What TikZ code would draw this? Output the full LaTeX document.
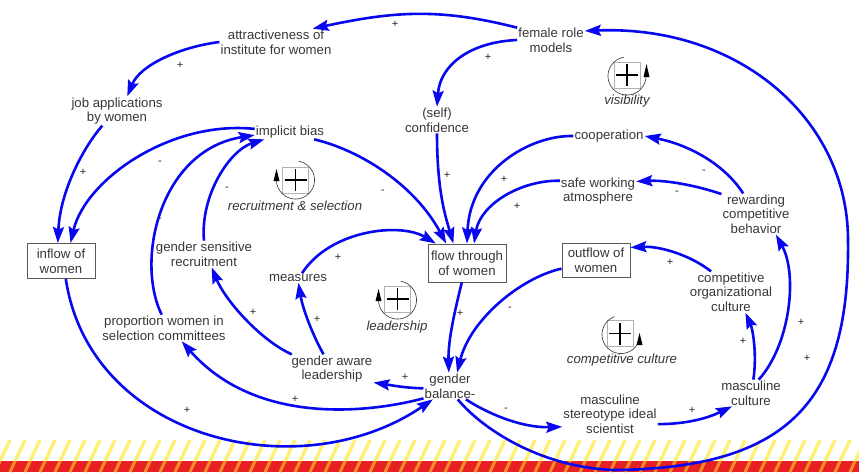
\documentclass[tikz,border=0pt]{standalone}
\usepackage{fontspec}
\setmainfont{Liberation Sans}
\usetikzlibrary{arrows.meta}
\definecolor{linkblue}{RGB}{8,8,240}
\definecolor{txt}{RGB}{55,55,55}
\definecolor{stripeyellow}{RGB}{255,240,120}
\definecolor{bandred}{RGB}{232,32,36}
\definecolor{stripeorange}{RGB}{246,140,40}
\begin{document}
\begin{tikzpicture}[x=1pt,y=-1pt,
  lbl/.style={align=center, inner sep=1pt, text=txt, font=\fontsize{13.2}{14.6}\selectfont},
  stock/.style={lbl, draw=black!65, line width=0.9pt, inner sep=0pt},
  loopname/.style={text=txt, font=\fontsize{13.2}{14.6}\selectfont\itshape, inner sep=1pt},
  pol/.style={text=black!85, font=\fontsize{11}{12}\selectfont, inner sep=0pt},
  link/.style={draw=linkblue, line width=2.6pt, -{Stealth[length=16pt,width=11pt,inset=2.5pt]}},
  loopline/.style={draw=black!80, line width=0.6pt},
  loopbox/.style={draw=black!30, fill=white, line width=0.5pt},
  loopplus/.style={draw=black, line width=1.6pt},
]
\useasboundingbox (0,0) rectangle (859,472);

% striped band along the bottom edge
\begin{scope}
  \clip (0,440) rectangle (859,461);
  \foreach \s in {-30,-15,...,885} \draw[stripeyellow, line width=3.5pt] (\s-5,472) -- (\s+10,440);
\end{scope}
\fill[bandred] (0,461) rectangle (859,472);
\begin{scope}
  \clip (0,461) rectangle (859,472);
  \foreach \s in {-30,-15,...,885} \draw[stripeorange, line width=3pt] (\s-5,472) -- (\s+10,440);
\end{scope}

% variables
\node[lbl] (attr) at (276,42) {attractiveness of\\institute for women};
\node[lbl] (frm) at (551,40) {female role\\models};
\node[lbl] (job) at (117,111) {job applications\\by women};
\node[lbl] (conf) at (437,120) {(self)\\confidence};
\node[lbl] (coop) at (609,136) {cooperation};
\node[lbl] (bias) at (290,132) {implicit bias};
\node[lbl] (safe) at (598,191) {safe working\\atmosphere};
\node[lbl] (rcb) at (756,214) {rewarding\\competitive\\behavior};
\node[stock, minimum width=68pt, minimum height=35pt] (inflow) at (61,261) {inflow of\\women};
\node[lbl] (gsr) at (204,254) {gender sensitive\\recruitment};
\node[lbl] (meas) at (298,278) {measures};
\node[stock, minimum width=78pt, minimum height=38pt] (flow) at (467,263) {flow through\\of women};
\node[stock, minimum width=68pt, minimum height=34pt] (outflow) at (596,260) {outflow of\\women};
\node[lbl] (cog) at (731,292) {competitive\\organizational\\culture};
\node[lbl] (pwsc) at (164,328) {proportion women in\\selection committees};
\node[lbl] (gal) at (332,369) {gender aware\\leadership};
\node[lbl] (gb) at (450,386) {gender\\balance-};
\node[lbl] (msis) at (610,414) {masculine\\stereotype ideal\\scientist};
\node[lbl] (mc) at (751,393) {masculine\\culture};

% loop markers
\begin{scope}[shift={(627,76)}]
  \draw[loopbox] (-13,-14) rectangle (13,12);
  \draw[loopplus] (-11,-1) -- (11,-1) (0,-12) -- (0,10);
  \draw[loopline] plot[domain=100:360, samples=60, variable=\t] ({19*cos(\t)}, {-19*sin(\t)});
  \fill (16.5,1) -- (22.5,1) -- (19.5,-12) -- cycle;
\end{scope}
\begin{scope}[shift={(295.5,180)}]
  \draw[loopbox] (-13,-13) rectangle (13,13);
  \draw[loopplus] (-11,0) -- (11,0) (0,-11) -- (0,11);
  \draw[loopline] plot[domain=-180:80, samples=60, variable=\t] ({19*cos(\t)}, {-19*sin(\t)});
  \fill (-22,1) -- (-16,1) -- (-19,-11) -- cycle;
\end{scope}
\begin{scope}[shift={(397.5,300)}]
  \draw[loopbox] (-13,-14) rectangle (13,12);
  \draw[loopplus] (-11,-1) -- (11,-1) (0,-12) -- (0,10);
  \draw[loopline] plot[domain=-180:80, samples=60, variable=\t] ({19*cos(\t)}, {-19*sin(\t)});
  \fill (-22,1) -- (-16,1) -- (-19,-11) -- cycle;
\end{scope}
\begin{scope}[shift={(621,334.5)}]
  \draw[loopbox] (-14,-14) rectangle (12,12);
  \draw[loopplus] (-12,-1) -- (10,-1) (-1,-12) -- (-1,10);
  \draw[loopline] plot[domain=110:330, samples=60, variable=\t] ({19*cos(\t)}, {-19*sin(\t)});
  \fill (15.5,10.5) -- (21.5,10.5) -- (18.5,-1.5) -- cycle;
\end{scope}
\node[loopname] (vis) at (627,101) {visibility};
\node[loopname] (rs) at (295,206) {recruitment \& selection};
\node[loopname] (lead) at (397,327) {leadership};
\node[loopname] (cc) at (622,360) {competitive culture};

% causal links
\coordinate (arcbottom) at (615,470);
\coordinate (arcright) at (848,240);
\draw[link] (frm.160) .. controls (440,8) and (395,11) .. (attr.20);
\draw[link] (attr.west) .. controls (180,47) and (140,65) .. (job.55);
\draw[link] (frm.west) .. controls (470,42) and (440,65) .. (conf.north);
\draw[link] (gb.-60) .. controls (485,432) and (545,468) .. (arcbottom)
  .. controls (790,468) and (850,400) .. (arcright)
  .. controls (848,120) and (740,25) .. (frm.15);
\draw[link] (gb.-40) .. controls (485,412) and (520,428) .. (msis.195);
\draw[link] (msis.-12) .. controls (690,424) and (710,417) .. (mc.-145);
\draw[link] (mc.80) .. controls (757,355) and (753,330) .. (cog.-55);
\draw[link] (mc.60) .. controls (790,345) and (798,275) .. (rcb.-46);
\draw[link] (cog.134) .. controls (690,255) and (660,246) .. (outflow.20);
\draw[link] (rcb.150) .. controls (695,185) and (665,180) .. (safe.14);
\draw[link] (rcb.122) .. controls (725,165) and (690,145) .. (coop.east);
\draw[link] (coop.west) .. controls (530,135) and (470,170) .. (flow.north);
\draw[link] (safe.165) .. controls (520,180) and (480,205) .. (flow.70);
\draw[link] (flow.-105) .. controls (455,310) and (448,340) .. (gb.95);
\draw[link] (outflow.194) .. controls (520,278) and (470,320) .. (gb.62);
\draw[link] (gb.185) .. controls (405,388) and (390,385) .. (gal.-18);
\draw[link] (gb.-155) .. controls (380,410) and (260,430) .. (pwsc.-37);
\draw[link] (inflow.-75) .. controls (90,440) and (300,490) .. (gb.-142);
\draw[link] (gal.160) .. controls (260,340) and (225,300) .. (gsr.-60);
\draw[link] (gal.120) .. controls (310,330) and (302,305) .. (meas.-85);
\draw[link] (meas.50) .. controls (330,230) and (400,222) .. (flow.148);
\draw[link] (gsr.north) .. controls (200,195) and (230,150) .. (bias.-164);
\draw[link] (pwsc.100) .. controls (135,260) and (160,150) .. (bias.185);
\draw[link] (bias.175) .. controls (170,120) and (85,180) .. (inflow.62);
\draw[link] (job.-135) .. controls (85,145) and (60,190) .. (inflow.100);
\draw[link] (bias.-17) .. controls (360,150) and (415,185) .. (flow.137);
\draw[link] (conf.south) .. controls (437,190) and (445,215) .. (flow.125);

% link polarities
\node[pol] (p1) at (395,24) {+};
\node[pol] (p2) at (180,65) {+};
\node[pol] (p3) at (488,57) {+};
\node[pol] (p4) at (807,358) {+};
\node[pol] (p5) at (506,410) {-};
\node[pol] (p6) at (692,410) {+};
\node[pol] (p7) at (743,341) {+};
\node[pol] (p8) at (801,322) {+};
\node[pol] (p9) at (670,262) {+};
\node[pol] (p10) at (677,193) {-};
\node[pol] (p11) at (704,172) {-};
\node[pol] (p12) at (504,179) {+};
\node[pol] (p13) at (517,206) {+};
\node[pol] (p14) at (460,313) {+};
\node[pol] (p15) at (510,309) {-};
\node[pol] (p16) at (405,377) {+};
\node[pol] (p17) at (295,399) {+};
\node[pol] (p18) at (187,410) {+};
\node[pol] (p19) at (253,312) {+};
\node[pol] (p20) at (317,319) {+};
\node[pol] (p21) at (338,257) {+};
\node[pol] (p22) at (227,189) {-};
\node[pol] (p23) at (160,220) {-};
\node[pol] (p24) at (160,163) {-};
\node[pol] (p25) at (83,172) {+};
\node[pol] (p26) at (383,192) {-};
\node[pol] (p27) at (447,175) {+};
\end{tikzpicture}
\end{document}
